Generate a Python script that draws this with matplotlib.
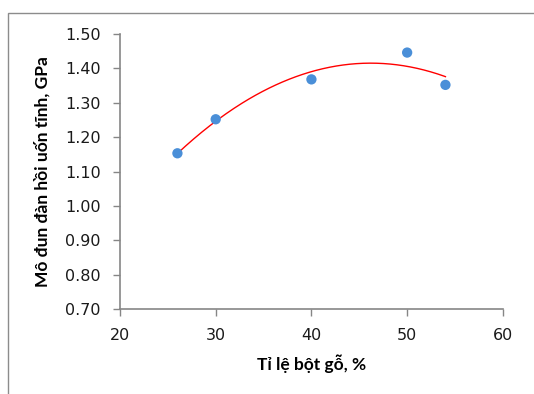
import numpy as np
import matplotlib
matplotlib.use("Agg")
import matplotlib.pyplot as plt
from matplotlib.patches import Rectangle

# Tỉ lệ bột gỗ (%) vs mô đun đàn hồi uốn tĩnh (GPa)
wood_pct = [26, 30, 40, 50, 54]
modulus = [1.153, 1.252, 1.368, 1.446, 1.352]
x_ticks = [20, 30, 40, 50, 60]
y_ticks = [0.70, 0.80, 0.90, 1.00, 1.10, 1.20, 1.30, 1.40, 1.50]


def main():
    fig = plt.figure(figsize=(5.34, 3.94), dpi=100)
    ax = fig.add_axes([0.2247, 0.2157, 0.717, 0.698])

    # outer chart border (only left and top edges visible in the crop)
    fig.patches.append(Rectangle((7.5 / 534, -0.1), 1.2, 1.1 - 13.5 / 394,
                                 transform=fig.transFigure, fill=False,
                                 edgecolor="#8c8c8c", linewidth=1.0))

    # polynomial trendline, order 2
    coef = np.polyfit(wood_pct, modulus, 2)
    xs = np.linspace(min(wood_pct), max(wood_pct), 200)
    ax.plot(xs, np.polyval(coef, xs), color="#ff0000", linewidth=1.0,
            zorder=2)
    ax.scatter(wood_pct, modulus, s=55, color="#4a8fd8", edgecolors="none",
               zorder=3)

    ax.set_xlim(20, 60)
    ax.set_ylim(0.70, 1.50)
    ax.set_xticks(x_ticks)
    ax.set_yticks(y_ticks)
    ax.set_yticklabels(["%.2f" % v for v in y_ticks])

    for s in ["top", "right"]:
        ax.spines[s].set_visible(False)
    for s in ["left", "bottom"]:
        ax.spines[s].set_color("#868686")
        ax.spines[s].set_linewidth(1.2)
    ax.tick_params(axis="both", direction="out", length=5, width=1,
                   color="#868686", labelsize=11.5, labelcolor="#1a1a1a")
    ax.tick_params(axis="x", pad=9)
    ax.tick_params(axis="y", pad=9)

    lab_font = ["Lato", "DejaVu Sans"]
    ax.set_xlabel("Tỉ lệ bột gỗ, %", fontsize=12.5, fontweight="bold",
                  family=lab_font, labelpad=8)
    ax.set_ylabel("Mô đun đàn hồi uốn tĩnh, GPa", fontsize=12.5,
                  fontweight="bold", family=lab_font, labelpad=10)

    fig.savefig("out.png", dpi=100)
    return


if __name__ == "__main__":
    main()
